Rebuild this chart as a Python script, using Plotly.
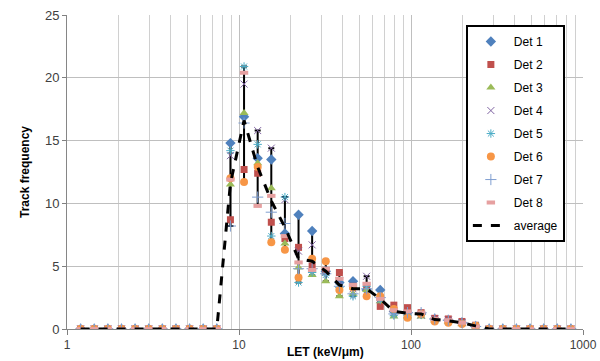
import numpy as np
import plotly.graph_objects as go

# LET bin centres (keV/um)
let_bins = [1.2, 1.44, 1.728, 2.074, 2.488, 2.986, 3.583, 4.300, 5.160, 6.192,
            7.430, 8.916, 10.70, 12.84, 15.41, 18.49, 22.19, 26.62, 31.95, 38.34,
            46.01, 55.21, 66.25, 79.50, 95.40, 114.5, 137.4, 164.8, 197.8, 237.4,
            284.8, 341.8, 410.1, 492.2, 590.6, 708.8, 850.5]

lead = [0] * 11
tail = [0] * 7

det1 = lead + [14.8, 16.9, 13.6, 13.5, 7.6, 9.1, 7.8, 4.6, 3.7, 3.8, 3.1, 3.1, 1.4, 1.3, 1.2, 0.8, 0.7, 0.5, 0.2] + tail
det2 = lead + [8.7, 12.7, 12.4, 8.5, 7.2, 6.5, 5.0, 4.6, 4.5, 3.4, 3.3, 1.8, 1.9, 1.7, 1.3, 0.85, 0.8, 0.6, 0.3] + tail
det3 = lead + [11.5, 17.2, 13.2, 11.2, 6.8, 4.9, 4.3, 3.8, 2.6, 2.8, 3.1, 2.2, 1.0, 1.0, 1.0, 0.7, 0.6, 0.4, 0.2] + tail
det4 = lead + [13.8, 19.5, 15.8, 14.4, 10.3, 6.2, 6.7, 4.5, 3.8, 3.2, 4.2, 2.4, 1.3, 1.2, 1.1, 0.8, 0.7, 0.5, 0.2] + tail
det5 = lead + [14.2, 20.9, 14.7, 7.4, 10.5, 3.7, 4.5, 4.3, 3.3, 2.6, 3.4, 2.3, 1.1, 1.1, 1.2, 0.7, 0.6, 0.5, 0.3] + tail
det6 = lead + [12.0, 11.7, 12.9, 6.9, 6.3, 4.1, 5.6, 5.4, 3.1, 3.3, 2.6, 2.6, 1.6, 0.9, 1.2, 0.6, 0.5, 0.4, 0.25] + tail
det7 = lead + [8.2, 16.4, 10.5, 9.3, 8.4, 4.8, 4.8, 4.4, 3.4, 2.8, 3.2, 2.5, 1.2, 1.3, 1.3, 0.8, 0.7, 0.5, 0.2] + tail
det8 = lead + [11.9, 20.4, 9.8, 10.6, 7.4, 5.3, 4.7, 4.8, 4.0, 3.5, 3.6, 2.4, 1.5, 1.4, 1.3, 0.8, 0.7, 0.5, 0.2] + tail
average = lead + [11.6, 16.6, 12.9, 10.2, 8.1, 5.6, 5.4, 4.6, 3.5, 3.2, 3.2, 2.4, 1.4, 1.25, 1.2, 0.75, 0.65, 0.5, 0.25] + tail

series_names = ["Det 1", "Det 2", "Det 3", "Det 4", "Det 5", "Det 6", "Det 7", "Det 8"]
series_vals = [det1, det2, det3, det4, det5, det6, det7, det8]

styles = [
    dict(symbol="diamond", color="#4F81BD", size=8, line=dict(width=0)),
    dict(symbol="square", color="#C0504D", size=7, line=dict(width=0)),
    dict(symbol="triangle-up", color="#9BBB59", size=8, line=dict(width=0)),
    dict(symbol="x-thin-open", color="#8064A2", size=7, line=dict(width=1, color="#8064A2")),
    dict(symbol="asterisk-open", color="#4BACC6", size=7, line=dict(width=1, color="#4BACC6")),
    dict(symbol="circle", color="#F79646", size=8, line=dict(width=0)),
    dict(symbol="cross-thin-open", color="#7F9ED0", size=8, line=dict(width=1, color="#7F9ED0")),
    dict(symbol="line-ew-open", color="#E6A0A0", size=6, line=dict(width=4, color="#E6A0A0")),
]

mat = np.array(series_vals, dtype=float)
avg = np.array(average, dtype=float)
hi = mat.max(axis=0) - avg
lo = avg - mat.min(axis=0)

fig = go.Figure()

# min-max range bars
fig.add_trace(go.Scatter(
    x=let_bins, y=average, mode="markers",
    marker=dict(size=1, opacity=0),
    error_y=dict(type="data", symmetric=False, array=hi, arrayminus=lo,
                 color="black", thickness=2, width=3),
    showlegend=False, hoverinfo="skip"))

for i, (name, vals) in enumerate(zip(series_names, series_vals)):
    fig.add_trace(go.Scatter(
        x=let_bins, y=vals, mode="markers", name=name,
        marker=styles[i], legendgroup=name))

fig.add_trace(go.Scatter(
    x=let_bins, y=average, mode="lines", name="average",
    line=dict(color="black", width=3, dash="dash"), legendgroup="average"))

font_family = "Liberation Sans, Arial, sans-serif"

fig.update_layout(
    width=600, height=361,
    margin=dict(l=67, r=17, t=15, b=32),
    paper_bgcolor="white", plot_bgcolor="white",
    font=dict(family=font_family, size=12, color="#404040"),
    showlegend=True,
    legend=dict(
        x=0.773, y=0.968, xanchor="left", yanchor="top",
        bgcolor="white", bordercolor="black", borderwidth=2,
        font=dict(size=12, color="black"),
        tracegroupgap=4,
        itemwidth=36,
    ),
    xaxis=dict(
        type="log", range=[0, 3], automargin=False,
        tickvals=[1, 10, 100, 1000], ticktext=["1", "10", "100", "1000"],
        ticks="outside", ticklen=5, tickcolor="#808080",
        showgrid=True, gridcolor="#BFBFBF", gridwidth=1,
        minor=dict(tickvals=[2, 3, 4, 5, 6, 7, 8, 9, 20, 30, 40, 50, 60, 70, 80, 90,
                             200, 300, 400, 500, 600, 700, 800, 900],
                   showgrid=True, gridcolor="#D0D0D0", gridwidth=1, ticks=""),
        showline=True, linecolor="#868686", linewidth=1,
        zeroline=False,
        tickfont=dict(size=12, color="#404040"),
    ),
    yaxis=dict(
        range=[0, 25], tickvals=[0, 5, 10, 15, 20, 25], automargin=False,
        ticks="outside", ticklen=4, tickcolor="#808080",
        showgrid=True, gridcolor="#BFBFBF", gridwidth=1,
        showline=True, linecolor="#868686", linewidth=1,
        zeroline=False,
        tickfont=dict(size=13, color="#404040"),
        title=dict(text="<b>Track frequency</b>", font=dict(size=12, color="black"), standoff=12),
    ),
    annotations=[
        dict(text="<b>LET (keV/μm)</b>", xref="paper", yref="paper",
             x=0.5, y=-0.073, xanchor="center", yanchor="middle",
             showarrow=False, font=dict(size=12, color="black")),
    ],
)

fig.write_html("out.html")
